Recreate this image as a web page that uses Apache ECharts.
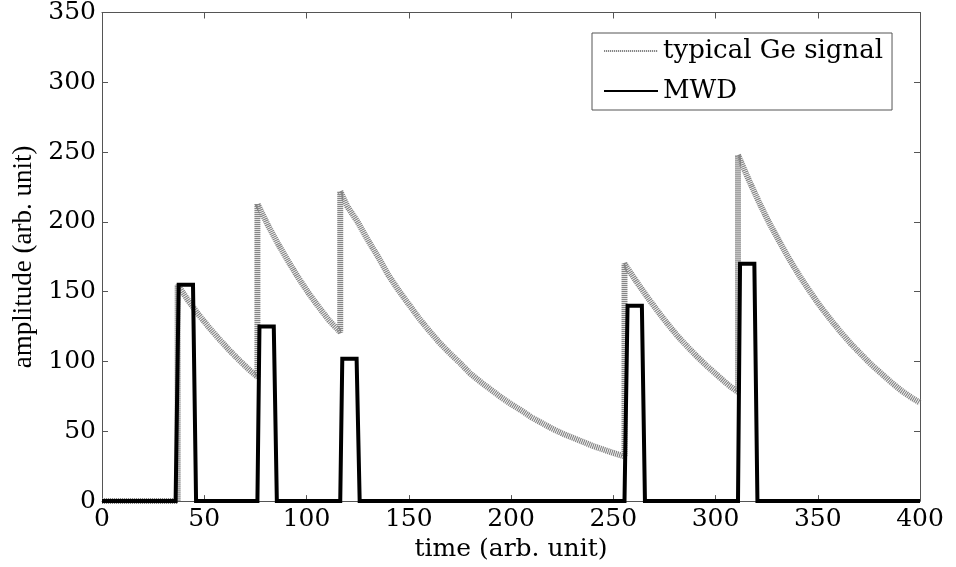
<!DOCTYPE html>
<html><head><meta charset="utf-8">
<script src="https://cdn.jsdelivr.net/npm/echarts/dist/echarts.min.js"></script>
<style>html,body{margin:0;padding:0;background:#fff}#c{width:956px;height:567px}</style>
</head><body><div id="c"></div>
<script>
// ---- data ----
const seriesNames = ['typical Ge signal', 'MWD'];
const xTitle = 'time (arb. unit)';
const yTitle = 'amplitude (arb. unit)';
const xRange = [0, 400, 50];   // min, max, tick step
const yRange = [0, 350, 50];

// typical Ge signal (time, amplitude)
const geTime = [0, 37, 37, 42, 47, 52, 57, 62, 67, 72, 76,
  76, 81, 86, 91, 96, 101, 106, 111, 116.5,
  116.5, 120, 125, 130, 135, 140, 145, 150, 155, 160, 165, 170, 175, 180, 185, 190, 195, 200, 205, 210, 215, 220, 225, 230, 235, 240, 245, 250, 255.5,
  255.5, 261, 266, 271, 276, 281, 286, 291, 296, 301, 306, 311,
  311, 316, 321, 326, 331, 336, 341, 346, 351, 356, 361, 366, 371, 376, 381, 386, 391, 396, 400];
const geAmp = [0, 0, 155, 144, 134, 125, 116.5, 108.5, 101, 94, 89,
  213, 198, 184.5, 172, 160, 149, 139, 129.5, 121,
  222, 211, 200, 187, 175, 162, 151, 141, 131, 122, 113.5, 106, 99, 91.5, 85.5, 80, 74.5, 69.5, 65, 60, 56, 52, 48.5, 45.5, 42.5, 39.5, 37, 34.5, 32,
  170, 158, 147.5, 137.5, 128, 119, 111, 103.5, 96.5, 90, 83.5, 78,
  248, 231, 215, 200, 186.5, 173.5, 161.5, 150.5, 140, 130.5, 121.5, 113, 105.5, 98, 91.5, 85, 79, 74, 70.5];

// MWD output (time, amplitude)
const mwdTime = [0, 36, 37.5, 44.5, 46, 76, 77, 84, 85.5, 116.5, 117.5, 124.5, 126, 255.5, 257, 264, 265.5, 311, 312, 319, 320.5, 400];
const mwdAmp  = [0, 0, 155, 155, 0, 0, 125, 125, 0, 0, 102, 102, 0, 0, 140, 140, 0, 0, 170, 170, 0, 0];

// ---- chart ----
const pairs = (xs, ys) => xs.map((x, i) => [x, ys[i]]);
const serif = 'DejaVu Serif';
const axisCol = '#555';

function xAxisDef(pos, withLabels) {
  return {
    type: 'value', position: pos, min: xRange[0], max: xRange[1], interval: xRange[2],
    axisLine: { show: true, onZero: false, lineStyle: { color: axisCol, width: 1 } },
    axisTick: { show: true, inside: true, length: 6, lineStyle: { color: axisCol } },
    axisLabel: { show: withLabels, fontFamily: serif, fontSize: 25, color: '#000', margin: 6, hideOverlap: false },
    splitLine: { show: false },
    name: withLabels ? xTitle : '', nameLocation: 'middle', nameGap: 32,
    nameTextStyle: { fontFamily: serif, fontSize: 25, color: '#000' }
  };
}
function yAxisDef(pos, withLabels) {
  return {
    type: 'value', position: pos, min: yRange[0], max: yRange[1], interval: yRange[2],
    axisLine: { show: true, onZero: false, lineStyle: { color: axisCol, width: 1 } },
    axisTick: { show: true, inside: true, length: 6, lineStyle: { color: axisCol } },
    axisLabel: { show: withLabels, fontFamily: serif, fontSize: 25, color: '#000', margin: 6, hideOverlap: false },
    splitLine: { show: false },
    name: withLabels ? yTitle : '', nameLocation: 'middle', nameGap: 58, nameRotate: 90,
    nameTextStyle: { fontFamily: 'Liberation Serif', fontSize: 27, color: '#000' }
  };
}

const chart = echarts.init(document.getElementById('c'), null, { renderer: 'canvas' });
chart.setOption({
  animation: false,
  backgroundColor: '#fff',
  grid: { left: 102, right: 36, top: 12, bottom: 61, containLabel: false },
  xAxis: [xAxisDef('bottom', true), xAxisDef('top', false)],
  yAxis: [yAxisDef('left', true), yAxisDef('right', false)],
  legend: {
    orient: 'vertical', left: 592, top: 33,
    backgroundColor: '#fff', borderColor: axisCol, borderWidth: 1, borderRadius: 0,
    padding: [5, 9, 6, 11], itemWidth: 54, itemHeight: 14, itemGap: 14,
    itemStyle: { opacity: 0 },
    textStyle: { fontFamily: serif, fontSize: 26, color: '#000' },
    data: seriesNames
  },
  series: [
    {
      name: seriesNames[0], type: 'line', data: pairs(geTime, geAmp),
      symbol: 'none', clip: false, smooth: false,
      lineStyle: { color: '#858585', width: 6, type: [1.2, 0.8] },
      itemStyle: { color: '#858585' }
    },
    {
      name: seriesNames[1], type: 'line', data: pairs(mwdTime, mwdAmp),
      symbol: 'none', clip: false, smooth: false,
      lineStyle: { color: '#000', width: 4, join: 'miter' },
      itemStyle: { color: '#000' }
    }
  ]
});
</script>
</body></html>
